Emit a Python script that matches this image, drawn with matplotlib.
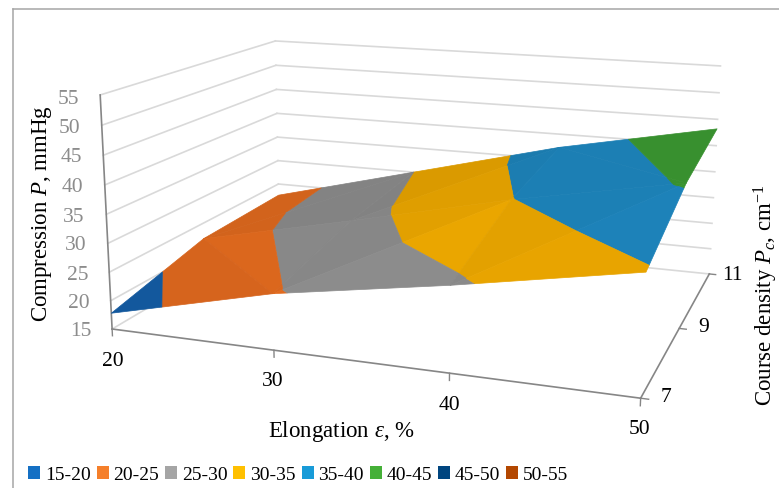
import numpy as np
import matplotlib

matplotlib.use("Agg")
import matplotlib.pyplot as plt
from matplotlib.colors import to_rgb
from matplotlib.lines import Line2D
from matplotlib.patches import Patch
from mpl_toolkits.mplot3d.art3d import Poly3DCollection

W, H = 779, 488

plt.rcParams["font.family"] = ["Liberation Serif", "DejaVu Sans"]
plt.rcParams["mathtext.fontset"] = "custom"
plt.rcParams["mathtext.rm"] = "Liberation Serif"
plt.rcParams["mathtext.it"] = "Liberation Serif:italic"

elongation = [20, 30, 40, 50]
density = [7, 9, 11]
pressure_7 = [17.8, 24.6, 29.3, 34.6]
pressure_9 = [22.0, 28.3, 34.9, 40.4]
pressure_11 = [22.6, 30.0, 37.4, 43.2]

band_edges = [15, 20, 25, 30, 35, 40, 45, 50, 55]
band_labels = ["15-20", "20-25", "25-30", "30-35", "35-40", "40-45", "45-50", "50-55"]
legend_colors = ["#1570C4", "#F57F2A", "#A5A5A5", "#FFC000", "#189BD8", "#45B038", "#00457F", "#B34700"]
surface_colors = ["#13599F", "#D9661D", "#878787", "#E2A000", "#1C7FB4", "#38902F", "#00375F", "#8F3900"]

z_ticks = [15, 20, 25, 30, 35, 40, 45, 50, 55]

# grid cells are cut along one diagonal each, (col, row) of the three corners + brightness
facets = [
    ((0, 0), (1, 0), (0, 1), 0.985),
    ((1, 0), (1, 1), (0, 1), 1.01),
    ((1, 0), (2, 0), (2, 1), 1.035),
    ((1, 0), (1, 1), (2, 1), 1.00),
    ((2, 0), (3, 0), (3, 1), 1.025),
    ((2, 0), (2, 1), (3, 1), 1.005),
    ((0, 1), (1, 1), (1, 2), 0.97),
    ((0, 1), (0, 2), (1, 2), 0.97),
    ((1, 1), (2, 1), (2, 2), 0.985),
    ((1, 1), (1, 2), (2, 2), 0.965),
    ((2, 1), (3, 1), (2, 2), 1.00),
    ((3, 1), (3, 2), (2, 2), 1.00),
]


def clip_z(poly, level, keep_above):
    out = []
    for a, b in zip(poly, poly[1:] + poly[:1]):
        a_in = a[2] >= level if keep_above else a[2] <= level
        b_in = b[2] >= level if keep_above else b[2] <= level
        if a_in:
            out.append(a)
        if a_in != b_in:
            t = (level - a[2]) / (b[2] - a[2])
            out.append(tuple(a[i] + t * (b[i] - a[i]) for i in range(3)))
    return out


def band_polygons(pressure):
    polys, colors = [], []
    for i0, i1, i2, shade in facets:
        tri = [(elongation[c], density[r], pressure[r][c]) for c, r in (i0, i1, i2)]
        for k in range(len(band_labels)):
            part = clip_z(tri, band_edges[k], True)
            if part:
                part = clip_z(part, band_edges[k + 1], False)
            if len(part) >= 3:
                polys.append(part)
                colors.append(np.clip(np.array(to_rgb(surface_colors[k])) * shade, 0, 1))
    return polys, colors


fig = plt.figure(figsize=(W / 100, H / 100), dpi=100)

# camera and box set so the chart sits inside the frame
ax = fig.add_axes([93.77 / W, -39.5 / H, 653.86 / W, 653.86 / H], projection="3d")
ax.view_init(elev=14.0044, azim=-70.7664, roll=-0.2733)
ax.set_proj_type("persp", focal_length=0.4110)
ax.set_box_aspect((2.2494, 1.6580, 1))
ax.set_xlim(elongation[0], elongation[-1])
ax.set_ylim(density[0], density[-1])
ax.set_zlim(z_ticks[0], z_ticks[-1])
ax.set_axis_off()
ax.computed_zorder = False

grid_color = "#D9D9D9"
axis_color = "#868686"

for z in z_ticks:
    ax.plot([elongation[0], elongation[0]], [density[0], density[-1]], [z, z],
            color=grid_color, lw=1.2, zorder=1)
    ax.plot([elongation[0], elongation[-1]], [density[-1], density[-1]], [z, z],
            color=grid_color, lw=1.2, zorder=1)

ax.plot([elongation[0], elongation[-1]], [density[0], density[0]], [z_ticks[0]] * 2,
        color=axis_color, lw=1.2, zorder=2)
ax.plot([elongation[-1], elongation[-1]], [density[0], density[-1]], [z_ticks[0]] * 2,
        color=axis_color, lw=1.2, zorder=2)
ax.plot([elongation[0], elongation[0]], [density[0], density[0]], [z_ticks[0], z_ticks[-1]],
        color=axis_color, lw=1.2, zorder=2)
for x in elongation:
    ax.plot([x, x], [density[0], density[0]], [z_ticks[0], z_ticks[0] - 1.2],
            color=axis_color, lw=1.0, zorder=2)
for y in density:
    ax.plot([elongation[-1], elongation[-1] + 0.4], [y, y], [z_ticks[0], z_ticks[0]],
            color=axis_color, lw=1.0, zorder=2)

polys, colors = band_polygons([pressure_7, pressure_9, pressure_11])
surface = Poly3DCollection(polys, facecolors=colors, edgecolors=colors, linewidths=0.5, zorder=3)
ax.add_collection3d(surface)

# tick labels and titles are placed on the figure in pixels


def px_text(x, y, s, **kw):
    return fig.text(x / W, 1 - y / H, s, ha="center", va="center", **kw)


for z, (x, y) in zip(z_ticks, [(81, 332), (79, 304), (78, 275), (76, 246), (74, 217),
                               (72, 188), (71, 158), (69, 128), (68, 99)]):
    px_text(x, y, str(z), fontsize=15.5, color="#8C8C8C")
for v, (x, y) in zip(elongation, [(113, 362), (273, 382), (449, 405), (640, 429)]):
    px_text(x, y, str(v), fontsize=15.5, color="black")
for v, (x, y) in zip(density, [(666, 398), (704, 328), (732, 275)]):
    px_text(x, y, str(v), fontsize=15.5, color="black")

px_text(341, 431, r"Elongation $\varepsilon$, %", fontsize=16.5)
px_text(42, 214, r"Compression $P$, mmHg", fontsize=16.5, rotation=90)
px_text(766, 295, r"Course density $P_c$, cm$^{-1}$", fontsize=16.5, rotation=90)

handles = [Patch(facecolor=c, edgecolor="none") for c in legend_colors]
fig.legend(
    handles,
    band_labels,
    loc="center left",
    bbox_to_anchor=(28 / W, 1 - 475 / H),
    ncol=len(band_labels),
    frameon=False,
    fontsize=14,
    borderpad=0,
    borderaxespad=0,
    handlelength=0.62,
    handleheight=0.62,
    handletextpad=0.24,
    columnspacing=0.31,
    labelspacing=0,
)

# chart area border, only the top and left edges fall inside the canvas
frame_color = "#A6A6A6"
fig.add_artist(Line2D([13 / W, 1], [1 - 8.5 / H] * 2, color=frame_color, lw=1.1))
fig.add_artist(Line2D([13 / W] * 2, [0, 1 - 8.5 / H], color=frame_color, lw=1.1))

fig.savefig("out.png", dpi=100)
